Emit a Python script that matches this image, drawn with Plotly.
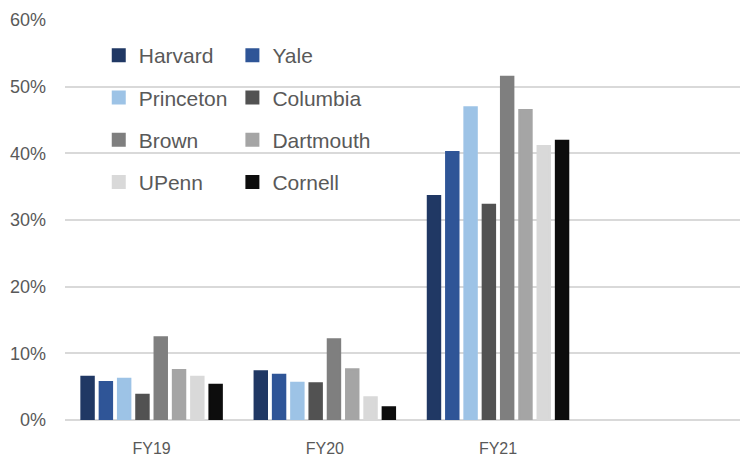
import plotly.graph_objects as go

years = ["FY19", "FY20", "FY21"]
schools = ["Harvard", "Yale", "Princeton", "Columbia", "Brown", "Dartmouth", "UPenn", "Cornell"]
colors = ["#203864", "#2f5597", "#9dc3e6", "#525252", "#7f7f7f", "#a5a5a5", "#d9d9d9", "#0d0d0d"]

# Endowment returns per fiscal year, as fractions
harvard = [0.065, 0.073, 0.336]
yale = [0.057, 0.068, 0.402]
princeton = [0.062, 0.056, 0.469]
columbia = [0.038, 0.055, 0.323]
brown = [0.124, 0.121, 0.515]
dartmouth = [0.075, 0.076, 0.465]
upenn = [0.065, 0.034, 0.411]
cornell = [0.053, 0.019, 0.419]

series = [harvard, yale, princeton, columbia, brown, dartmouth, upenn, cornell]

FONT = "Liberation Sans"
TEXT = "#595959"

fig = go.Figure()
for i, (name, vals, col) in enumerate(zip(schools, series, colors)):
    fig.add_trace(go.Bar(
        x=years, y=vals, name=name,
        marker=dict(color=col, line=dict(color=col, width=2)),
        legend="legend" if i % 2 == 0 else "legend2",
        legendgroup=name,
    ))

legend_common = dict(
    bgcolor="rgba(0,0,0,0)",
    font=dict(family=FONT, size=21, color=TEXT),
    tracegroupgap=12,
    itemclick=False,
    yanchor="top",
    xanchor="left",
    y=0.9625,
)

fig.update_layout(
    width=740, height=456,
    margin=dict(l=65, r=0, t=20, b=36),
    paper_bgcolor="white", plot_bgcolor="white",
    barmode="group", bargap=0.155, bargroupgap=0.32,
    showlegend=True,
    legend=dict(x=0.05, **legend_common),
    legend2=dict(x=0.248, **legend_common),
    xaxis=dict(
        type="category", range=[-0.5, 3.397],
        showgrid=False, showline=False, zeroline=False, ticks="",
        tickfont=dict(family=FONT, size=16, color=TEXT),
        ticklabelstandoff=17,
    ),
    yaxis=dict(
        range=[0, 0.6], dtick=0.1, tickformat=".0%",
        showgrid=True, gridcolor="#d9d9d9", gridwidth=1.5,
        zeroline=True, zerolinecolor="#d9d9d9", zerolinewidth=2,
        showline=False, ticks="",
        tickfont=dict(family=FONT, size=18, color=TEXT),
        ticklabelstandoff=18,
    ),
)

fig.write_html("out.html")
